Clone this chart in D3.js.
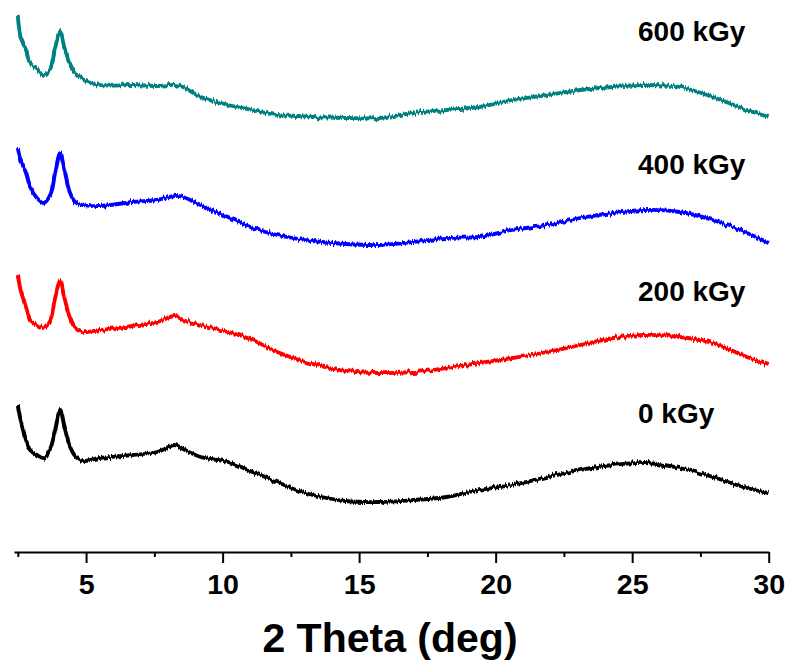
<!DOCTYPE html>
<html>
<head>
<meta charset="utf-8">
<script src="https://cdn.jsdelivr.net/npm/d3@7"></script>
<style>
  body { margin: 0; background: #fff; }
  text { font-family: "Liberation Sans", Arial, sans-serif; font-weight: bold; }
</style>
</head>
<body>
<div id="chart"></div>
<script>
// 2 theta positions (deg), shared by all patterns
var theta = [2.5, 2.6, 2.8, 2.95, 3.2, 3.45, 3.7, 3.85, 4.05, 4.2, 4.4, 4.6, 4.85, 5.5, 6.7, 7.6, 8.25, 8.55, 9.2, 10.2, 11.1,
             12.0, 12.8, 13.3, 14.5, 15.75, 17.0, 18.2, 19.4, 20.6, 21.9, 23.1, 24.3, 25.5, 26.75, 27.95, 29.2, 30.0];

// intensities (a.u., stacked as plotted)
var dose0 = [147, 132, 112, 102, 97, 94, 104, 120, 142, 126, 106, 96, 91, 94, 97, 100, 107, 103, 95, 90, 80,
             70, 61, 57, 51, 50, 52, 55, 62, 67, 75, 82, 87, 89, 84, 75, 64, 59];
var dose200 = [277, 262, 245, 232, 227, 224, 232, 252, 271, 255, 235, 224, 220, 222, 226, 230, 236, 232, 227, 220, 212,
               200, 192, 188, 181, 179, 180, 184, 189, 194, 200, 207, 214, 217, 215, 209, 195, 187];
var dose400 = [404, 392, 379, 365, 354, 349, 358, 377, 399, 383, 360, 350, 347, 346, 350, 352, 356, 355, 347, 335, 324,
               317, 313, 311, 308, 307, 310, 314, 315, 322, 327, 334, 339, 342, 340, 332, 319, 309];
var dose600 = [536, 515, 502, 489, 484, 477, 484, 502, 520, 505, 489, 479, 474, 467, 467, 466, 467, 465, 455, 447, 442,
               437, 436, 435, 434, 434, 439, 442, 445, 452, 457, 462, 465, 467, 465, 455, 442, 435];

var seriesNames = ["0 kGy", "200 kGy", "400 kGy", "600 kGy"];
var seriesColors = ["#000000", "#ff0000", "#0000ff", "#008080"];

var xTicks = [5, 10, 15, 20, 25, 30];
var xMinor = [2.5, 7.5, 12.5, 17.5, 22.5, 27.5];

var width = 789, height = 664;
var axisY = 552;

var svg = d3.select("#chart").append("svg")
    .attr("width", width)
    .attr("height", height);

// vertical-only jitter so the traces read like raw counting data
var defs = svg.append("defs");
var rough = defs.append("filter")
    .attr("id", "rough")
    .attr("filterUnits", "userSpaceOnUse")
    .attr("color-interpolation-filters", "sRGB")
    .attr("x", 0).attr("y", 0).attr("width", width).attr("height", height);
rough.append("feTurbulence")
    .attr("type", "fractalNoise")
    .attr("baseFrequency", "0.6 0.02")
    .attr("numOctaves", 2)
    .attr("seed", 3)
    .attr("result", "noise");
rough.append("feColorMatrix")
    .attr("in", "noise")
    .attr("type", "matrix")
    .attr("values", "0 0 0 0 0.5  0 1 0 0 0  0 0 1 0 0  0 0 0 0 1")
    .attr("result", "ynoise");
rough.append("feDisplacementMap")
    .attr("in", "SourceGraphic")
    .attr("in2", "ynoise")
    .attr("scale", 6)
    .attr("xChannelSelector", "R")
    .attr("yChannelSelector", "G");

var x = d3.scaleLinear().domain([2.36, 30]).range([14, 768.7]);
var y = d3.scaleLinear().domain([0, 552]).range([axisY, 0]);

var allSeries = [dose0, dose200, dose400, dose600];

var line = d3.line()
    .x(function(d) { return x(d[0]); })
    .y(function(d) { return y(d[1]); })
    .curve(d3.curveCatmullRom.alpha(0.5));

svg.append("g")
    .attr("filter", "url(#rough)")
  .selectAll(".pattern")
    .data(allSeries)
  .enter().append("path")
    .attr("class", "pattern")
    .attr("fill", "none")
    .attr("stroke", function(d, i) { return seriesColors[i]; })
    .attr("stroke-width", 3.8)
    .attr("stroke-linejoin", "round")
    .attr("d", function(vals) { return line(theta.map(function(t, j) { return [t, vals[j]]; })); });

// labels, one above each trace
var labelBase = [423, 301, 174, 41];
svg.selectAll(".lbl")
    .data(seriesNames)
  .enter().append("text")
    .attr("class", "lbl")
    .attr("x", 638)
    .attr("y", function(d, i) { return labelBase[i]; })
    .style("font-size", "28px")
    .attr("fill", "#000")
    .text(function(d) { return d; });

// x axis
var minorAxis = d3.axisBottom(x).tickValues(xMinor).tickSize(5).tickFormat("");
svg.append("g")
    .attr("transform", "translate(0," + axisY + ")")
    .call(minorAxis)
    .call(function(g) { g.select(".domain").remove(); })
    .selectAll("line").attr("stroke-width", 2);

var xAxis = d3.axisBottom(x).tickValues(xTicks).tickSize(11).tickSizeOuter(0).tickPadding(12);
var gx = svg.append("g")
    .attr("transform", "translate(0," + axisY + ")")
    .call(xAxis);
gx.select(".domain").attr("stroke-width", 2.2);
gx.selectAll("line").attr("stroke-width", 2);
gx.selectAll("text")
    .style("font-size", "27px")
    .style("font-family", "'Liberation Sans', Arial, sans-serif")
    .style("font-weight", "bold")
    .attr("fill", "#000")
    .attr("transform", "scale(1.06,1)");

svg.append("text")
    .attr("x", 390)
    .attr("y", 652)
    .attr("text-anchor", "middle")
    .style("font-size", "41px")
    .text("2 Theta (deg)");
</script>
</body>
</html>
